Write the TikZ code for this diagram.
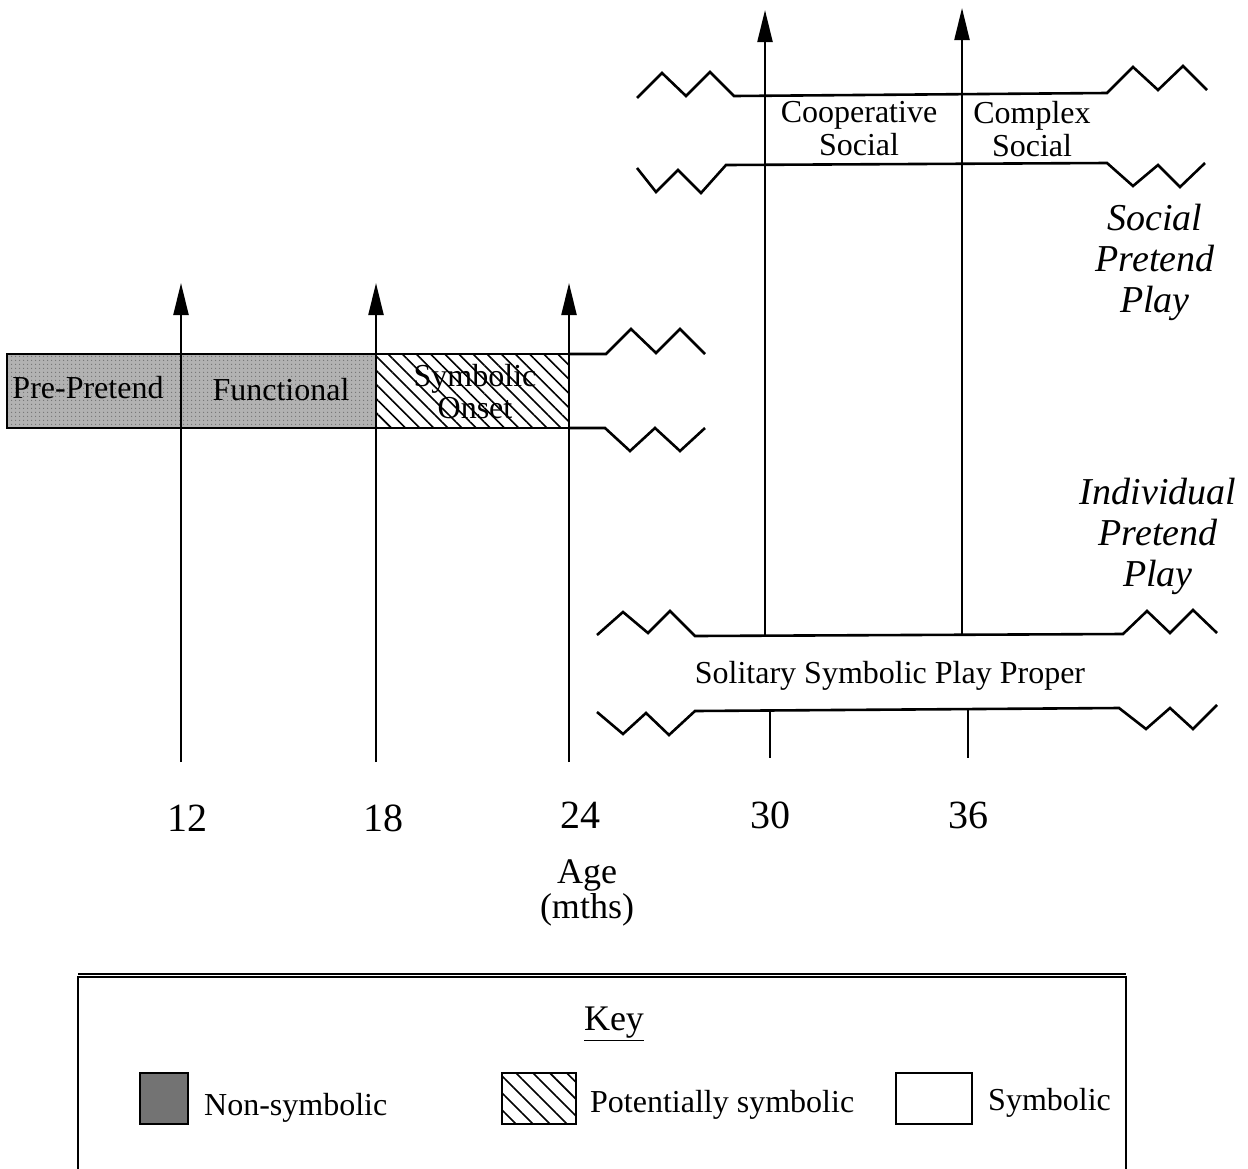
\documentclass[tikz,border=0pt]{standalone}
\usepackage{fontspec}
\setmainfont{Liberation Serif}
\usetikzlibrary{arrows.meta,patterns.meta}
\tikzset{
  lbl/.style={font=\fontsize{32}{33}\selectfont, inner sep=0pt, align=center},
  num/.style={font=\fontsize{40}{42}\selectfont, inner sep=0pt},
  ital/.style={font=\fontsize{38}{41}\selectfont\itshape, inner sep=0pt, align=center},
  axisarrow/.style={line width=2.2pt, -{Triangle[length=32pt,width=15pt]}},
  tickline/.style={line width=2.2pt},
  bandline/.style={line width=2.6pt, line join=miter},
  hatchA/.style={pattern={Lines[angle=-45,distance=10pt,line width=1.6pt]}},
  hatchB/.style={pattern={Lines[angle=-45,distance=12pt,line width=1.6pt]}},
}
\begin{document}
\begin{tikzpicture}[x=1pt,y=-1pt]
\clip (0,0) rectangle (1248,1168);
\fill[white] (0,0) rectangle (1248,1168);

% ---- early band ----
\fill[black!30] (7,354) rectangle (376,428);
\fill[black!45, pattern={Dots[distance=4pt,radius=0.8pt]}, pattern color=black!55] (7,354) rectangle (376,428);
\fill[hatchA] (376,354) rectangle (569,428);
\draw[bandline] (569,354) -- (7,354) -- (7,428) -- (569,428);
\draw[bandline] (569,354) -- (606,354) -- (631,329) -- (656,353) -- (680,329) -- (705,354);
\draw[bandline] (569,428) -- (605,428) -- (630,451) -- (655,428) -- (680,451) -- (705,428);

\node[lbl] (prepretend) at (88,388) {Pre-Pretend};
\node[lbl] (functional) at (281,390) {Functional};
\node[lbl, font=\fontsize{32}{32}\selectfont] (onset) at (475,392) {Symbolic\\Onset};

% ---- axis arrows ----
\coordinate (b12) at (181,762); \coordinate (t12) at (181,283);
\coordinate (b18) at (376,762); \coordinate (t18) at (376,283);
\coordinate (b24) at (569,762); \coordinate (t24) at (569,283);
\draw[axisarrow] (b12) -- (t12);
\draw[axisarrow] (b18) -- (t18);
\draw[axisarrow] (b24) -- (t24);

% ---- social band ----
\draw[bandline] (637,98) -- (662,73) -- (686,96) -- (710,72) -- (734,96) -- (1107,93) -- (1133,67) -- (1158,90) -- (1183,66) -- (1207,90);
\draw[bandline] (637,168) -- (656,192) -- (678,170) -- (701,193) -- (726,165) -- (1107,163) -- (1133,186) -- (1158,165) -- (1180,187) -- (1205,163);
\node[lbl] (coop) at (859,129) {Cooperative\\Social};
\node[lbl] (complex) at (1032,129) {Complex\\Social};

% ---- solitary band ----
\draw[bandline] (597,635) -- (623,612) -- (648,633) -- (670,611) -- (695,636) -- (1123,634) -- (1147,611) -- (1170,633) -- (1193,610) -- (1217,633);
\draw[bandline] (597,712) -- (623,734) -- (646,713) -- (669,735) -- (695,711) -- (1119,708) -- (1146,729) -- (1170,708) -- (1193,729) -- (1217,705);
\node[lbl] (solitary) at (890,676) {Solitary Symbolic Play Proper};

\coordinate (b30) at (765,635); \coordinate (t30) at (765,10);
\coordinate (b36) at (962,634); \coordinate (t36) at (962,8);
\draw[axisarrow] (b30) -- (t30);
\draw[axisarrow] (b36) -- (t36);
\coordinate (k30a) at (770,711); \coordinate (k30b) at (770,758);
\coordinate (k36a) at (968,709); \coordinate (k36b) at (968,758);
\draw[tickline] (k30a) -- (k30b);
\draw[tickline] (k36a) -- (k36b);

% ---- side labels ----
\node[ital] (socialpp) at (1155,262) {Social\\Pretend\\Play};
\node[ital] (indivpp) at (1158,536) {Individual\\Pretend\\Play};

% ---- age labels ----
\node[num] (n12) at (187,818) {12};
\node[num] (n18) at (383,818) {18};
\node[num] (n24) at (580,815) {24};
\node[num] (n30) at (770,815) {30};
\node[num] (n36) at (968,815) {36};
\node[inner sep=0pt, align=center, font=\fontsize{36}{35}\selectfont] (age) at (587,893) {Age\\(mths)};

% ---- key ----
\draw[line width=2pt] (78,1175) -- (78,977) -- (1126,977) -- (1126,1175);
\draw[line width=1.2pt] (78,974) -- (1126,974);
\node[lbl, font=\fontsize{36}{36}\selectfont] (keytitle) at (614,1024) {\underline{Key}};
\draw[line width=2pt, fill=black!55] (140,1073) rectangle (188,1124);
\draw[line width=2pt, hatchB] (502,1073) rectangle (576,1124);
\draw[line width=2pt, fill=white] (896,1073) rectangle (972,1124);
\node[lbl, anchor=west] (nonsym) at (204,1108) {Non-symbolic};
\node[lbl, anchor=west] (potsym) at (590,1105) {Potentially symbolic};
\node[lbl, anchor=west] (sym) at (988,1103) {Symbolic};
\end{tikzpicture}
\end{document}
